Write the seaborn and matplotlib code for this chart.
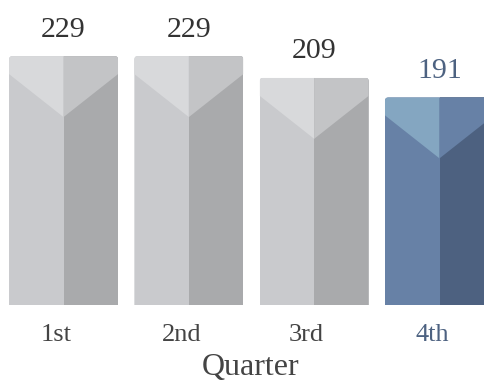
import matplotlib
matplotlib.use("Agg")
import matplotlib.pyplot as plt
from matplotlib.patches import FancyBboxPatch, Polygon, Rectangle
import seaborn as sns
import pandas as pd

# ---- data ----
quarters = ["1st", "2nd", "3rd", "4th"]
totals = [229, 229, 209, 191]
highlight = [False, False, False, True]
axis_title = "Quarter"

# ---- styles ----
grey = dict(ul="#d8d9db", ur="#c3c4c6", ll="#c9cacd", lr="#a9aaac", text="#333333")
blue = dict(ul="#84a6c1", ur="#6781a6", ll="#6781a6", lr="#4d6180", text="#4d6281")

sns.set_theme(style="white")
plt.rcParams["font.family"] = ["Liberation Serif", "DejaVu Serif"]

fig = plt.figure(figsize=(4.85, 3.9), dpi=100)
ax = fig.add_axes([0, 85 / 390, 1, 305 / 390])

df = pd.DataFrame({"Quarter": quarters, "Total": totals})
sns.barplot(data=df, x="Quarter", y="Total", ax=ax, width=0.87,
            color=grey["ll"], saturation=1, linewidth=0)
ax.set_xlim(-0.507, 3.363)
ax.set_ylim(0, 280.6)
ax.set_axis_off()

# pixel scale of data units
p0 = ax.transData.transform((0, 0))
p1 = ax.transData.transform((1, 1))
sx, sy = p1[0] - p0[0], p1[1] - p0[1]

radius_px, edge_px, tip_px = 3.5, 18, 61

for i, p in enumerate(ax.patches):
    pal = blue if highlight[i] else grey
    x0, w, h = p.get_x(), p.get_width(), p.get_height()
    xc, x1 = x0 + w / 2, x0 + w
    clip = FancyBboxPatch((x0, -20), w, h + 20,
                          boxstyle=f"round,pad=0,rounding_size={radius_px / sx}",
                          mutation_aspect=sx / sy, transform=ax.transData)
    p.set_facecolor(pal["ll"])
    p.set_clip_path(clip)
    parts = [
        Rectangle((xc, 0), w / 2, h, facecolor=pal["lr"], linewidth=0),
        Polygon([(x0, h), (xc, h), (xc, h - tip_px / sy), (x0, h - edge_px / sy)],
                closed=True, facecolor=pal["ul"], linewidth=0),
        Polygon([(xc, h), (x1, h), (x1, h - edge_px / sy), (xc, h - tip_px / sy)],
                closed=True, facecolor=pal["ur"], linewidth=0),
    ]
    for a in parts:
        ax.add_patch(a)
        a.set_clip_path(clip)
    ax.annotate(str(totals[i]), xy=(xc, h), xytext=(0, 14), textcoords="offset points",
                ha="center", va="baseline", fontsize=21.5, color=pal["text"])
    ax.annotate(quarters[i], xy=(xc, 0), xycoords=("data", "axes fraction"),
                xytext=(-5.4, -25.9), textcoords="offset points",
                ha="center", va="baseline", fontsize=19,
                color=(blue if highlight[i] else dict(text="#444444"))["text"],
                annotation_clip=False)

ax.annotate(axis_title, xy=(0.5, 0), xycoords="axes fraction",
            xytext=(6, -50.4), textcoords="offset points",
            ha="center", va="baseline", fontsize=23, color="#444444",
            annotation_clip=False)

fig.savefig("out.png", dpi=100)
